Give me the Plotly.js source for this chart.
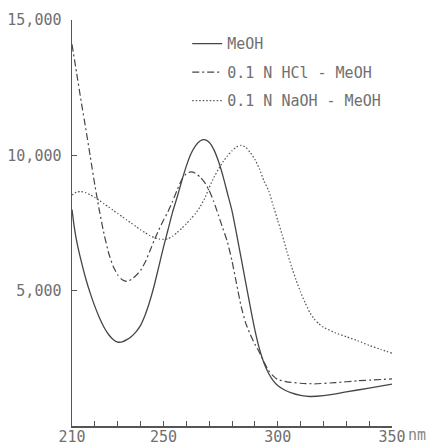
<!DOCTYPE html>
<html>
<head>
<meta charset="utf-8">
<script src="https://cdn.plot.ly/plotly-3.0.1.min.js"></script>
<style>
html,body{margin:0;padding:0;background:#fff;}
#chart{width:430px;height:445px;}
</style>
</head>
<body>
<div id="chart"></div>
<script>
// Wavelengths (nm) and absorbance (epsilon)
const wlMeOH = [210,211,212,214,216,218,220,222,224,226,228,230,232,234,236,238,240,242,244,246,248,250,252,254,256,258,260,262,264,266,268,270,272,274,276,278,280,282,284,286,288,290,292,294,296,298,300,303,306,310,314,320,330,340,350];
const epsMeOH = [8000,7350,6850,6100,5450,4900,4420,4000,3650,3380,3200,3100,3110,3190,3310,3480,3720,4100,4600,5200,5900,6600,7250,7900,8450,9050,9600,10050,10350,10530,10580,10480,10220,9800,9250,8600,7950,7100,6200,5300,4400,3550,2850,2330,1950,1680,1500,1330,1220,1130,1090,1120,1260,1400,1550];

const wlHCl = [210,212,214,216,218,220,222,224,226,228,230,232,234,236,238,240,242,244,246,248,250,252,254,256,258,260,262,264,266,268,270,272,274,276,278,280,282,284,286,288,290,292,294,296,298,300,304,310,316,325,335,350];
const epsHCl = [14100,13050,12000,11000,9950,8900,7950,7100,6400,5900,5580,5400,5340,5420,5560,5750,6050,6450,6870,7250,7600,7920,8300,8720,9100,9320,9390,9340,9200,9000,8700,8300,7800,7300,6800,6100,5250,4420,3800,3380,3020,2720,2360,2050,1850,1720,1630,1580,1560,1600,1670,1740];

const wlNaOH = [210,212,214,216,218,220,222,224,226,228,230,232,234,236,238,240,242,244,246,248,250,252,254,256,258,260,262,264,266,268,270,272,274,276,278,280,282,284,286,288,290,292,294,296,298,300,302,304,306,308,310,312,314,316,318,320,325,330,335,340,345,350];
const epsNaOH = [8530,8640,8660,8620,8540,8440,8330,8210,8090,7970,7850,7730,7610,7490,7370,7250,7140,7040,6960,6910,6895,6920,7010,7150,7300,7470,7650,7850,8090,8400,8800,9170,9480,9750,9980,10170,10310,10370,10300,10100,9850,9500,9050,8700,8150,7600,7050,6450,5900,5400,4950,4550,4200,3950,3780,3650,3450,3300,3150,2980,2830,2690];

const seriesNames = ["MeOH", "0.1 N HCl - MeOH", "0.1 N NaOH - MeOH"];

const xTickVals = [210,220,230,240,250,260,270,280,290,300,310,320,330,340,350];
const xTickText = ["210","","","","250","","","","","300","","","","","350"];
const yTickVals = [5000,10000,15000];
const yTickText = ["5,000","10,000","15,000"];
const xUnit = "nm";

const fontFam = "DejaVu Sans Mono, monospace";
const txtColor = "#707070";
const lineColor = "#454545";

const traces = [
  {x: wlMeOH, y: epsMeOH, name: seriesNames[0], legendgroup: "a", mode: "lines",
   line: {color: lineColor, width: 1.3, shape: "spline", smoothing: 0.5}},
  {x: wlHCl, y: epsHCl, name: seriesNames[1], legendgroup: "b", mode: "lines",
   line: {color: lineColor, width: 1.2, dash: "7px,3px,2px,3px", shape: "spline", smoothing: 0.5}},
  {x: wlNaOH, y: epsNaOH, name: seriesNames[2], legendgroup: "c", mode: "lines",
   line: {color: "#555", width: 1.2, dash: "1.5px,2px", shape: "spline", smoothing: 0.5}}
];

const layout = {
  width: 430, height: 445,
  margin: {l: 72, r: 38, t: 20, b: 19, pad: 0},
  paper_bgcolor: "#fff", plot_bgcolor: "#fff",
  font: {family: fontFam, size: 15, color: txtColor},
  showlegend: true,
  hovermode: false,
  legend: {
    x: 0.36, y: 0.982, xanchor: "left", yanchor: "top",
    bgcolor: "rgba(0,0,0,0)", borderwidth: 0,
    font: {family: fontFam, size: 15, color: txtColor},
    traceorder: "grouped", tracegroupgap: 6
  },
  xaxis: {
    range: [210, 350], showgrid: false, zeroline: false,
    showline: true, linecolor: "#555", linewidth: 1.5,
    tickmode: "array", tickvals: xTickVals, ticktext: xTickText,
    ticks: "inside", ticklen: 5, tickcolor: "#555", tickwidth: 1,
    ticklabelstandoff: -4,
    tickfont: {family: fontFam, size: 15, color: txtColor}
  },
  yaxis: {
    range: [0, 15000], showgrid: false, zeroline: false,
    showline: true, linecolor: "#555", linewidth: 1.5,
    tickmode: "array", tickvals: yTickVals, ticktext: yTickText,
    ticks: "inside", ticklen: 5, tickcolor: "#555", tickwidth: 1.2,
    ticklabelstandoff: 6,
    tickfont: {family: fontFam, size: 15, color: txtColor}
  },
  annotations: [
    {x: 350, y: 0, xref: "x", yref: "paper", text: xUnit, showarrow: false,
     xanchor: "left", yanchor: "top", xshift: 14, yshift: 2,
     font: {family: fontFam, size: 15, color: "#888"}}
  ]
};

Plotly.newPlot("chart", traces, layout, {staticPlot: true, displayModeBar: false});
</script>
</body>
</html>
